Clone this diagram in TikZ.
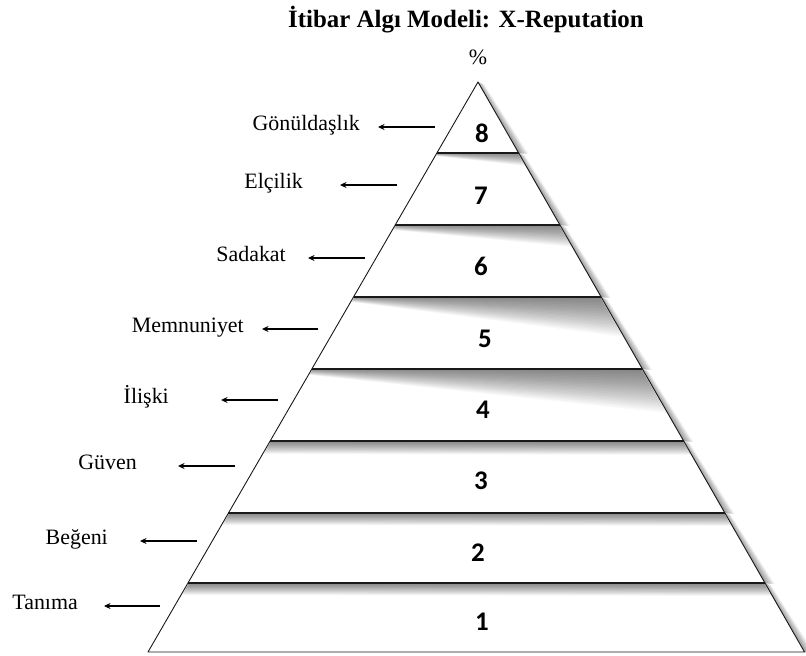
\documentclass[tikz,border=0pt]{standalone}
\usepackage{fontspec}
\setmainfont{Liberation Serif}
\newfontfamily\numfont{Carlito-Bold.ttf}
\usetikzlibrary{calc,arrows.meta}
\begin{document}
\begin{tikzpicture}[x=1bp,y=-1bp,
  edge/.style={draw=black!90, line width=0.9bp},
  lbl/.style={font=\fontsize{22}{26}\selectfont, inner sep=0pt, anchor=mid east},
  num/.style={font=\numfont\fontsize{27}{32}\selectfont, inner sep=0pt},
  pointer/.style={-{Stealth[length=6.5bp,width=6bp]}, line width=1.6bp},
  shade/.style={fill=black, opacity=0.025},
  oshade/.style={fill=black, opacity=0.022},
]
\fill[white] (0,0) rectangle (806,656);
\useasboundingbox (0,0) rectangle (806,656);
\coordinate (A) at (478,82);
\coordinate (L0) at (148,652);
\coordinate (R0) at (804.5,652);
\coordinate (L8) at (478,82);
\coordinate (R8) at (478,82);
\foreach \k/\y in {7/153,6/225,5/297,4/369,3/441,2/513,1/583} {
  \pgfmathsetmacro\t{(\y-82)/570}
  \coordinate (L\k) at ($(A)!\t!(L0)$);
  \coordinate (R\k) at ($(A)!\t!(R0)$);
}
% outer shadow on the right of each segment
\foreach \k/\j in {8/7,7/6,6/5,5/4,4/3,3/2,2/1,1/0} {
  \foreach \i in {1,...,20} {
    \fill[oshade] (R\k) -- (R\j) -- ($(R\j)+(\i*0.5,1)$) -- ($(R\k)+(\i*0.3,2)$) -- cycle;
  }
}
% inner shadows below each boundary
\foreach \k/\hl/\hr in {7/3/13,6/5/22,5/5/40,4/6/44,3/13/14,2/12/13,1/12/13} {
  \foreach \i in {1,...,24} {
    \fill[shade] ($(L\k)+(1,0)$) -- ($(R\k)+(-1,0)$) -- ($(R\k)+(0.574*\hr*\i/24-1,\hr*\i/24)$) -- ($(L\k)+(1-0.579*\hl*\i/24,\hl*\i/24)$) -- cycle;
  }
}
% pyramid
\draw[edge, line join=round] (A) -- (R0) -- (L0) -- cycle;
\foreach \k in {1,...,7} { \draw[edge, line width=1.1bp] (L\k) -- (R\k); }
% numbers
\foreach \k/\x/\y in {8/482/133,7/481/196,6/481/266,5/485/339,4/483/410,3/481/481,2/478/553,1/482/622} {
  \node[num] (n\k) at (\x,\y) {\k};
}
% labels and arrows
\foreach \k/\txt/\xr/\ya/\xs/\xt in {8/Gönüldaşlık/360/127/435/378,7/Elçilik/303/185/397/340,6/Sadakat/286/258/365/308,5/Memnuniyet/244/329/318/262,4/İlişki/169/400/278/221,3/Güven/137/466/235/178,2/Beğeni/108/541/197/140,1/Tanıma/78/606/160/104} {
  \node[lbl] (lab\k) at (\xr,\ya+1.5) {\txt};
  \coordinate (s\k) at (\xs,\ya);
  \pgfmathsetmacro\g{\xt-\xr}
  \draw[pointer, shorten >=\g bp] (s\k) -- (s\k -| lab\k.east);
}
% title and percent
\node[font=\bfseries\fontsize{25}{30}\selectfont, anchor=base, inner sep=0pt] (title) at (466,28) {İtibar Algı Modeli: X-Reputation};
\node[font=\fontsize{22}{26}\selectfont, inner sep=0pt] (pct) at (478,57) {\%};
\end{tikzpicture}
\end{document}
